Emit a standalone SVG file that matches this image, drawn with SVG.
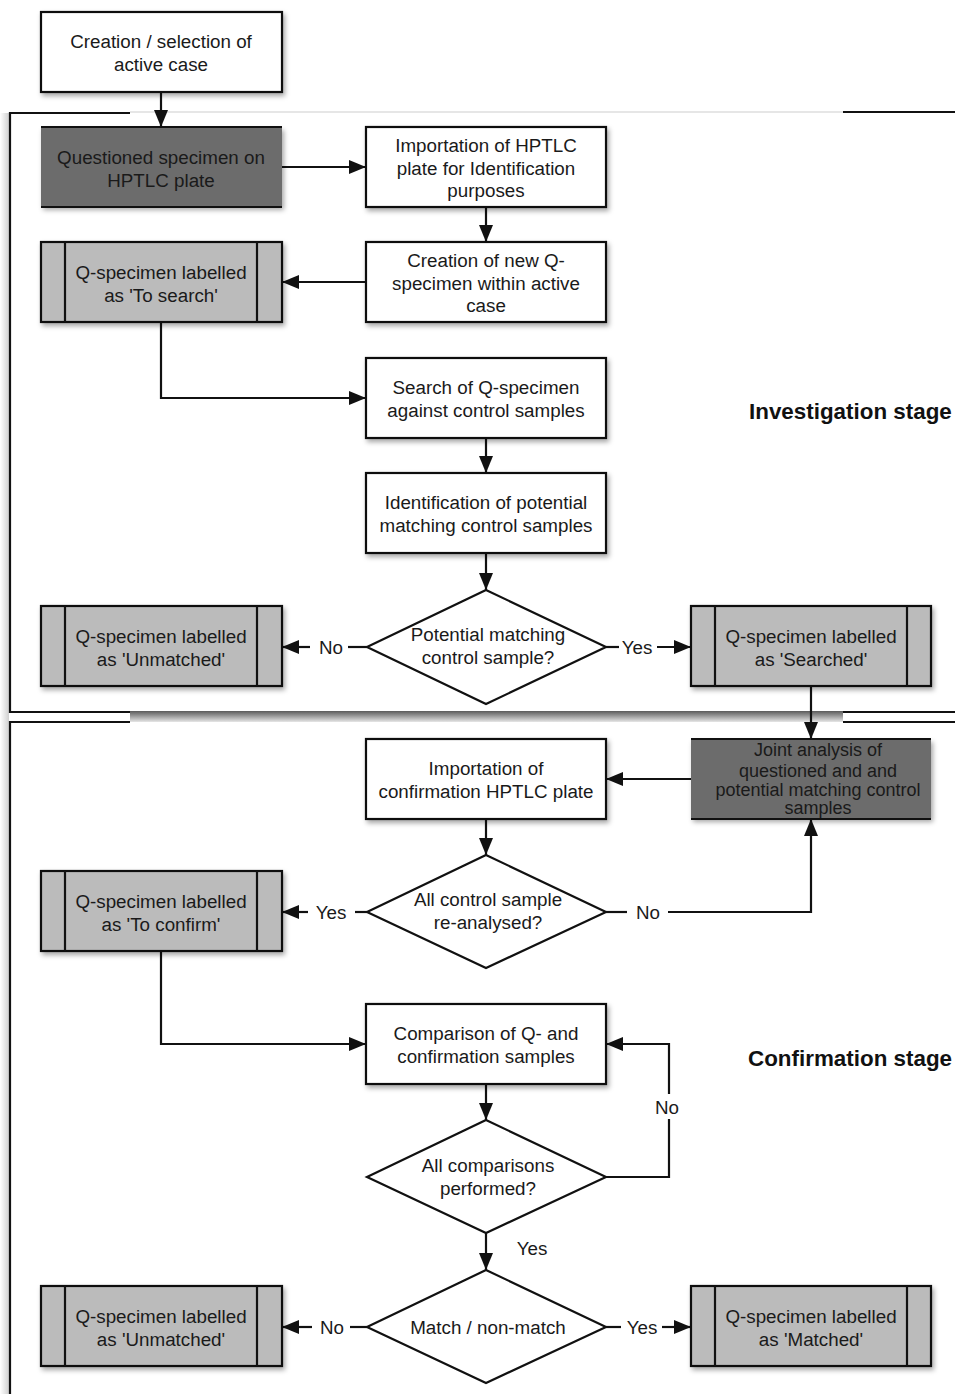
<svg xmlns="http://www.w3.org/2000/svg" width="955" height="1394" viewBox="0 0 955 1394">
<style>
text{font-family:"Liberation Sans",Arial,sans-serif;font-size:18.8px;fill:#1a1a1a;text-anchor:middle}
.stage{font-weight:bold;font-size:22.4px;text-anchor:start;fill:#111}
.sm{font-size:18px}
.box{fill:#fff;stroke:#111;stroke-width:2.2}
.pre{fill:#bbb;stroke:#111;stroke-width:2.2}
.dark{fill:#6c6c6c}
.hl{stroke:#111;stroke-width:2.2;fill:none}
.dia{fill:#fff;stroke:#111;stroke-width:2.2}
.frame{stroke:#111;stroke-width:2.2;fill:none}
#connectors path{fill:none;stroke:#111;stroke-width:2.2}
.arr{marker-end:url(#ah)}
</style>
<defs>
<marker id="ah" markerUnits="userSpaceOnUse" markerWidth="18" markerHeight="14" refX="17" refY="7" orient="auto">
<path d="M0,0 L17,7 L0,14 z" fill="#111"/>
</marker>
<filter id="sh" x="-10%" y="-10%" width="130%" height="140%">
<feDropShadow dx="2" dy="3" stdDeviation="2.5" flood-color="#000" flood-opacity="0.35"/>
</filter>
<linearGradient id="band" x1="0" y1="0" x2="0" y2="1">
<stop offset="0" stop-color="#5a5a5a"/>
<stop offset="1" stop-color="#e6e6e6"/>
</linearGradient>
<linearGradient id="lsh" x1="0" y1="0" x2="1" y2="0">
<stop offset="0" stop-color="#fff"/>
<stop offset="1" stop-color="#cfcfcf"/>
</linearGradient>
</defs>

<g id="frames">
<rect x="0" y="113" width="9" height="1281" fill="url(#lsh)"/>
<rect x="130" y="711" width="713" height="11" fill="url(#band)"/>
<line x1="130" y1="112" x2="843" y2="112" stroke="#e6e6e6" stroke-width="2"/>
<path class="frame" d="M130,113 H10 V712 H130"/>
<path class="frame" d="M843,112 H955"/>
<path class="frame" d="M130,722 H10 V1394"/>
<path class="frame" d="M843,712 H955 M843,722 H955"/>
</g>

<g id="stage-investigation"><text class="stage" x="749" y="419">Investigation stage</text></g>
<g id="stage-confirmation"><text class="stage" x="748" y="1066">Confirmation stage</text></g>

<g id="connectors">
<path class="arr" d="M161,92 V127"/>
<path class="arr" d="M282,167 H366"/>
<path class="arr" d="M486,207 V242"/>
<path class="arr" d="M366,282 H282"/>
<path class="arr" d="M161,322 V398 H366"/>
<path class="arr" d="M486,438 V473"/>
<path class="arr" d="M486,553 V590"/>
<path d="M367,647 H348"/>
<path class="arr" d="M310,647 H282"/>
<path d="M606,647 H619"/>
<path class="arr" d="M657,647 H691"/>
<path class="arr" d="M811,686 V739"/>
<path class="arr" d="M691,779 H606"/>
<path class="arr" d="M486,819 V855"/>
<path d="M367,912 H355"/>
<path class="arr" d="M308,912 H282"/>
<path d="M606,912 H627"/>
<path class="arr" d="M668,912 H811 V819"/>
<path class="arr" d="M161,951 V1044 H366"/>
<path class="arr" d="M486,1084 V1120"/>
<path d="M606,1177 H669 V1119"/>
<path class="arr" d="M669,1094 V1044 H606"/>
<path class="arr" d="M486,1233 V1270"/>
<path d="M367,1327 H350"/>
<path class="arr" d="M312,1327 H282"/>
<path d="M606,1327 H621"/>
<path class="arr" d="M662,1327 H691"/>
</g>

<g id="labels">
<text x="331" y="654">No</text>
<text x="637" y="654">Yes</text>
<text x="331" y="919">Yes</text>
<text x="648" y="919">No</text>
<text x="667" y="1114">No</text>
<text x="532" y="1255">Yes</text>
<text x="332" y="1334">No</text>
<text x="642" y="1334">Yes</text>
</g>

<g id="n-creation">
<rect class="box" x="41" y="12" width="241" height="80" filter="url(#sh)"/>
<text x="161" y="48">Creation / selection of</text>
<text x="161" y="71">active case</text>
</g>

<g id="n-questioned">
<rect class="dark" x="41" y="127" width="241" height="80" filter="url(#sh)"/>
<path class="hl" d="M41,127 H282 M41,207 H282"/>
<text x="161" y="164">Questioned specimen on</text>
<text x="161" y="187">HPTLC plate</text>
</g>

<g id="n-import-id">
<rect class="box" x="366" y="127" width="240" height="80" filter="url(#sh)"/>
<text x="486" y="152">Importation of HPTLC</text>
<text x="486" y="175">plate for Identification</text>
<text x="486" y="197">purposes</text>
</g>

<g id="n-new-q">
<rect class="box" x="366" y="242" width="240" height="80" filter="url(#sh)"/>
<text x="486" y="267">Creation of new Q-</text>
<text x="486" y="290">specimen within active</text>
<text x="486" y="312">case</text>
</g>

<g id="n-to-search">
<rect class="pre" x="41" y="242" width="241" height="80" filter="url(#sh)"/>
<path class="hl" d="M65,242 V322 M257,242 V322"/>
<text x="161" y="279">Q-specimen labelled</text>
<text x="161" y="302">as 'To search'</text>
</g>

<g id="n-search">
<rect class="box" x="366" y="358" width="240" height="80" filter="url(#sh)"/>
<text x="486" y="394">Search of Q-specimen</text>
<text x="486" y="417">against control samples</text>
</g>

<g id="n-ident">
<rect class="box" x="366" y="473" width="240" height="80" filter="url(#sh)"/>
<text x="486" y="509">Identification of potential</text>
<text x="486" y="532">matching control samples</text>
</g>

<g id="n-dec1">
<polygon class="dia" points="486,590 606,647 486,704 367,647"/>
<text x="488" y="641">Potential matching</text>
<text x="488" y="664">control sample?</text>
</g>

<g id="n-unmatched1">
<rect class="pre" x="41" y="606" width="241" height="80" filter="url(#sh)"/>
<path class="hl" d="M65,606 V686 M257,606 V686"/>
<text x="161" y="643">Q-specimen labelled</text>
<text x="161" y="666">as 'Unmatched'</text>
</g>

<g id="n-searched">
<rect class="pre" x="691" y="606" width="240" height="80" filter="url(#sh)"/>
<path class="hl" d="M715,606 V686 M907,606 V686"/>
<text x="811" y="643">Q-specimen labelled</text>
<text x="811" y="666">as 'Searched'</text>
</g>

<g id="n-joint">
<rect class="dark" x="691" y="739" width="240" height="80" filter="url(#sh)"/>
<path class="hl" d="M691,739 H931 M691,819 H931"/>
<text class="sm" x="818" y="756">Joint analysis of</text>
<text class="sm" x="818" y="777">questioned and and</text>
<text class="sm" x="818" y="796">potential matching control</text>
<text class="sm" x="818" y="814">samples</text>
</g>

<g id="n-import-conf">
<rect class="box" x="366" y="739" width="240" height="80" filter="url(#sh)"/>
<text x="486" y="775">Importation of</text>
<text x="486" y="798">confirmation HPTLC plate</text>
</g>

<g id="n-dec2">
<polygon class="dia" points="486,855 606,912 486,968 367,912"/>
<text x="488" y="906">All control sample</text>
<text x="488" y="929">re-analysed?</text>
</g>

<g id="n-to-confirm">
<rect class="pre" x="41" y="871" width="241" height="80" filter="url(#sh)"/>
<path class="hl" d="M65,871 V951 M257,871 V951"/>
<text x="161" y="908">Q-specimen labelled</text>
<text x="161" y="931">as 'To confirm'</text>
</g>

<g id="n-compare">
<rect class="box" x="366" y="1004" width="240" height="80" filter="url(#sh)"/>
<text x="486" y="1040">Comparison of Q- and</text>
<text x="486" y="1063">confirmation samples</text>
</g>

<g id="n-dec3">
<polygon class="dia" points="486,1120 606,1177 486,1233 367,1177"/>
<text x="488" y="1172">All comparisons</text>
<text x="488" y="1195">performed?</text>
</g>

<g id="n-dec4">
<polygon class="dia" points="486,1270 606,1327 486,1383 367,1327"/>
<text x="488" y="1334">Match / non-match</text>
</g>

<g id="n-unmatched2">
<rect class="pre" x="41" y="1286" width="241" height="80" filter="url(#sh)"/>
<path class="hl" d="M65,1286 V1366 M257,1286 V1366"/>
<text x="161" y="1323">Q-specimen labelled</text>
<text x="161" y="1346">as 'Unmatched'</text>
</g>

<g id="n-matched">
<rect class="pre" x="691" y="1286" width="240" height="80" filter="url(#sh)"/>
<path class="hl" d="M715,1286 V1366 M907,1286 V1366"/>
<text x="811" y="1323">Q-specimen labelled</text>
<text x="811" y="1346">as 'Matched'</text>
</g>
</svg>
